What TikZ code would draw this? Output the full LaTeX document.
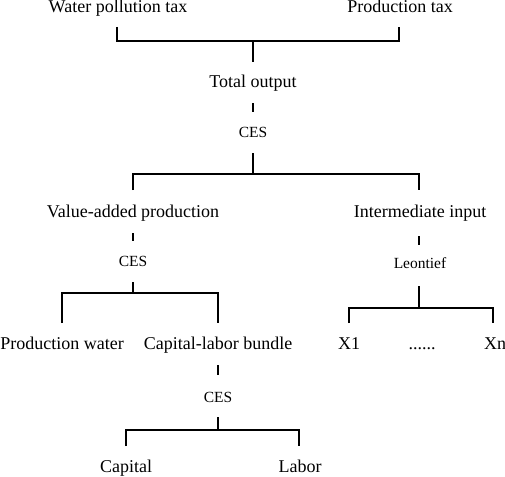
\documentclass[tikz,border=0pt]{standalone}
\usepackage{fontspec}
\setmainfont{Liberation Serif}
\usetikzlibrary{calc}

\tikzset{
  lbl/.style={anchor=base, inner sep=0pt, font=\fontsize{18}{20}\selectfont},
  fn/.style={anchor=base, inner sep=0pt, font=\fontsize{15.5}{17}\selectfont},
}

\begin{document}
\begin{tikzpicture}[x=1pt, y=-1pt, line width=1.1pt]
      \useasboundingbox (0,0) rectangle (505,476);

      % labels
      \node[lbl] (wpt)  at (118,13)  {Water pollution tax};
      \node[lbl] (pt)   at (400,13)  {Production tax};
      \node[lbl] (to)   at (253,88)  {Total output};
      \node[fn]  (ces1) at (253,137) {CES};
      \node[lbl] (va)   at (133,217) {Value-added production};
      \node[lbl] (ii)   at (420,217) {Intermediate input};
      \node[fn]  (ces2) at (133,266) {CES};
      \node[fn]  (leo)  at (420,268) {Leontief};
      \node[lbl] (pw)   at (62,349)  {Production water};
      \node[lbl] (clb)  at (218,349) {Capital-labor bundle};
      \node[lbl] (x1)   at (349,349) {X1};
      \node[lbl] (dots) at (422,349) {......};
      \node[lbl] (xn)   at (495,349) {Xn};
      \node[fn]  (ces3) at (218,402) {CES};
      \node[lbl] (cap)  at (126,472) {Capital};
      \node[lbl] (lab)  at (300,472) {Labor};

      % branch points
      \coordinate (b1) at (253,41);
      \coordinate (b2) at (253,174);
      \coordinate (b3) at (133,293);
      \coordinate (b4) at (419,308);
      \coordinate (b5) at (218,430);

      % taxes
      \draw ($(wpt.base)+(-1,14)$) |- (b1) -| ($(pt.base)+(-1,14)$);
      \draw (b1) -- ($(to.base)+(0,-26)$);
      \draw ($(to.base)+(0,15)$) -- ($(ces1.base)+(0,-25)$);
      \draw ($(ces1.base)+(0,16)$) -- (b2);

      % second level
      \draw ($(va.base)+(0,-27)$) |- (b2) -| ($(ii.base)+(-1,-27)$);
      \draw ($(va.base)+(0,16)$) -- ($(ces2.base)+(0,-25)$);
      \draw ($(ces2.base)+(0,16)$) -- (b3);
      \draw ($(ii.base)+(-1,19)$) -- ($(leo.base)+(-1,-23)$);
      \draw ($(leo.base)+(-1,18)$) -- (b4);

      % third level
      \draw ($(pw.base)+(0,-26)$) |- (b3) -| ($(clb.base)+(0,-26)$);
      \draw ($(x1.base)+(0,-26)$) |- (b4) -| ($(xn.base)+(-2,-26)$);
      \draw ($(clb.base)+(0,16)$) -- ($(ces3.base)+(0,-27)$);
      \draw ($(ces3.base)+(0,15)$) -- (b5);
      \draw ($(cap.base)+(0,-26)$) |- (b5) -| ($(lab.base)+(-1,-26)$);
\end{tikzpicture}
\end{document}
